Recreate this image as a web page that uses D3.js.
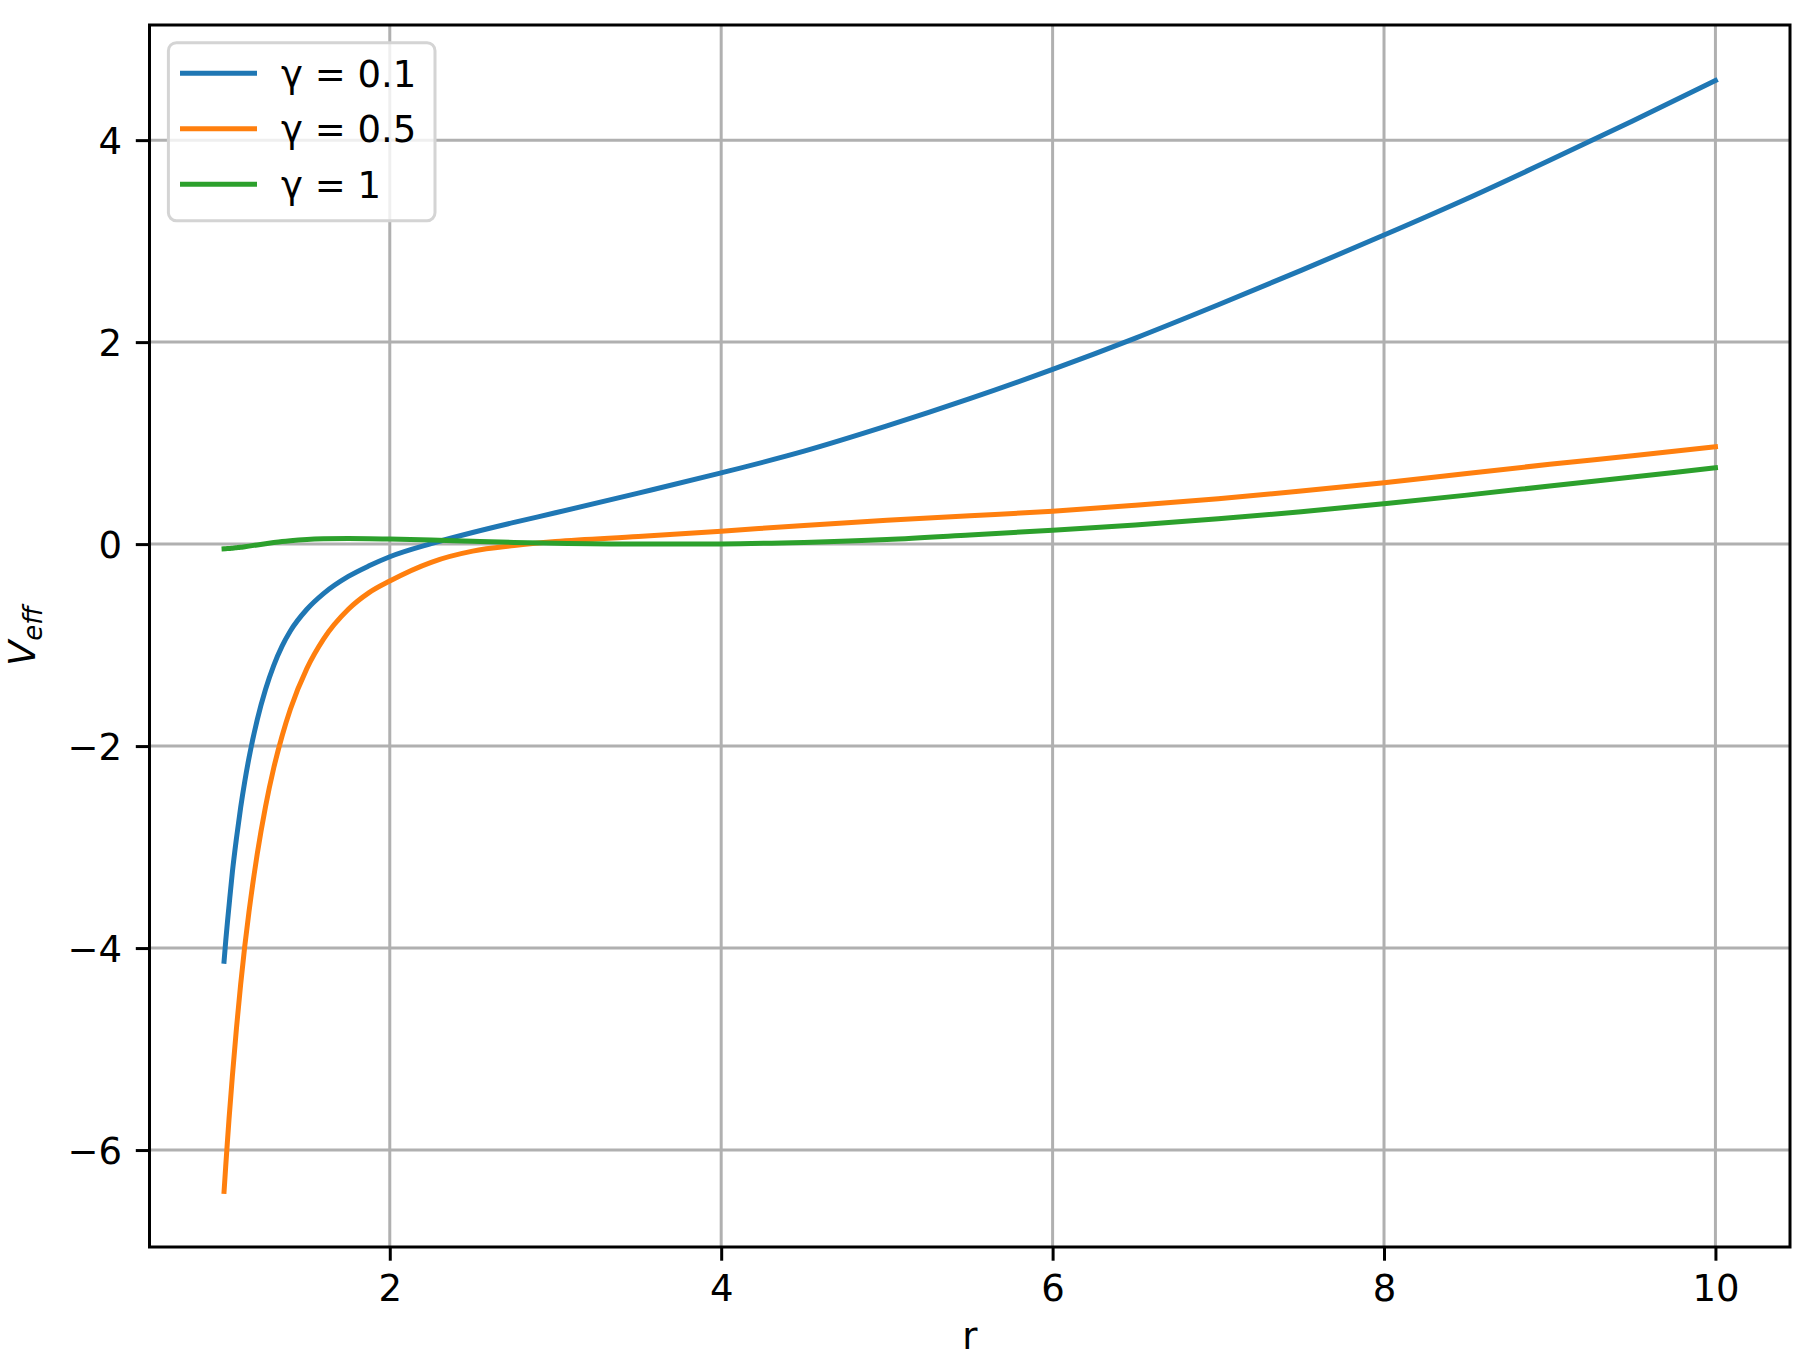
<!DOCTYPE html>
<html>
<head>
<meta charset="utf-8">
<script src="https://cdn.jsdelivr.net/npm/d3@7"></script>
<style>
  html, body { margin: 0; padding: 0; background: #ffffff; }
  svg { display: block; }
  text { font-family: "DejaVu Sans", sans-serif; }
</style>
</head>
<body>
<script>
// ---- data ----
const rValues = [1, 1.01, 1.02, 1.03, 1.05, 1.075, 1.1, 1.125, 1.15, 1.2, 1.25, 1.3, 1.35, 1.4, 1.5, 1.6, 1.75, 1.875, 2, 2.25, 2.5, 2.75, 3, 3.5, 4, 4.5, 5, 5.5, 6, 6.5, 7, 7.5, 8, 8.5, 9, 9.5, 10];
const vGamma01 = [-4.13, -3.93, -3.75, -3.58, -3.25, -2.91, -2.61, -2.35, -2.12, -1.74, -1.44, -1.20, -1.01, -0.86, -0.645, -0.49, -0.32, -0.215, -0.125, 0.005, 0.115, 0.215, 0.31, 0.505, 0.705, 0.92, 1.17, 1.44, 1.73, 2.04, 2.37, 2.71, 3.06, 3.42, 3.80, 4.19, 4.59];
const vGamma05 = [-6.41, -6.16, -5.92, -5.69, -5.27, -4.79, -4.36, -3.98, -3.645, -3.07, -2.60, -2.215, -1.90, -1.635, -1.23, -0.94, -0.645, -0.48, -0.365, -0.18, -0.07, -0.015, 0.025, 0.075, 0.128, 0.185, 0.235, 0.28, 0.326, 0.385, 0.45, 0.525, 0.607, 0.70, 0.79, 0.875, 0.963];
const vGamma1 = [-0.046, -0.045, -0.044, -0.043, -0.040, -0.036, -0.032, -0.026, -0.020, -0.008, 0.004, 0.015, 0.025, 0.033, 0.045, 0.052, 0.056, 0.054, 0.050, 0.040, 0.028, 0.017, 0.009, 0.001, 0.002, 0.017, 0.045, 0.09, 0.138, 0.19, 0.25, 0.32, 0.40, 0.485, 0.575, 0.665, 0.755];
const seriesLabels = ["γ = 0.1", "γ = 0.5", "γ = 1"];
const seriesColors = ["#1f77b4", "#ff7f0e", "#2ca02c"];
const xTicks = [2, 4, 6, 8, 10];
const yTicks = [-6, -4, -2, 0, 2, 4];
const xLabel = "r";

// ---- layout ----
const W = 1807, H = 1360;
const M = { left: 149.5, right: 1790, top: 25, bottom: 1247 };
const FS = 37;

const series = [vGamma01, vGamma05, vGamma1].map((vals, i) => ({
  label: seriesLabels[i], color: seriesColors[i],
  points: rValues.map((r, j) => ({ r, v: vals[j] }))
}));

const xExt = d3.extent(rValues);
const allV = [].concat(vGamma01, vGamma05, vGamma1);
const yExt = d3.extent(allV);
const xPad = (xExt[1] - xExt[0]) * 0.05;
const yPad = (yExt[1] - yExt[0]) * 0.05;

const x = d3.scaleLinear().domain([xExt[0] - xPad, xExt[1] + xPad]).range([M.left, M.right]);
const y = d3.scaleLinear().domain([yExt[0] - yPad, yExt[1] + yPad]).range([M.bottom, M.top]);

const svg = d3.select("body").append("svg").attr("width", W).attr("height", H);
svg.append("rect").attr("width", W).attr("height", H).attr("fill", "#ffffff");

// grid
const grid = svg.append("g");
grid.selectAll("line.gx").data(xTicks).enter().append("line")
  .attr("x1", d => x(d)).attr("x2", d => x(d))
  .attr("y1", M.top).attr("y2", M.bottom)
  .attr("stroke", "#b0b0b0").attr("stroke-width", 3);
grid.selectAll("line.gy").data(yTicks).enter().append("line")
  .attr("y1", d => y(d)).attr("y2", d => y(d))
  .attr("x1", M.left).attr("x2", M.right)
  .attr("stroke", "#b0b0b0").attr("stroke-width", 3);

// lines
const line = d3.line().x(d => x(d.r)).y(d => y(d.v)).curve(d3.curveMonotoneX);
svg.append("g").selectAll("path").data(series).enter().append("path")
  .attr("d", d => line(d.points))
  .attr("fill", "none")
  .attr("stroke", d => d.color)
  .attr("stroke-width", 5)
  .attr("stroke-linecap", "square")
  .attr("stroke-linejoin", "round");

// axes
const xAxis = d3.axisBottom(x).tickValues(xTicks).tickSize(13.7).tickPadding(13.7).tickFormat(d3.format("d"));
const yAxis = d3.axisLeft(y).tickValues(yTicks).tickSize(13.7).tickPadding(13.7).tickFormat(d => d < 0 ? "\u2212" + Math.abs(d) : String(d));

const gx = svg.append("g").attr("transform", `translate(0,${M.bottom})`).call(xAxis);
gx.select(".domain").remove();
gx.selectAll(".tick line").attr("stroke", "#000").attr("stroke-width", 3);
gx.selectAll(".tick text").attr("font-size", FS).attr("fill", "#000")
  .attr("font-family", "DejaVu Sans").attr("dy", null).attr("y", 13.7 + 13.7 + 27);

const gy = svg.append("g").attr("transform", `translate(${M.left},0)`).call(yAxis);
gy.select(".domain").remove();
gy.selectAll(".tick line").attr("stroke", "#000").attr("stroke-width", 3);
gy.selectAll(".tick text").attr("font-size", FS).attr("fill", "#000")
  .attr("font-family", "DejaVu Sans").attr("dy", null).attr("y", 13.5);

// frame
svg.append("rect")
  .attr("x", M.left).attr("y", M.top)
  .attr("width", M.right - M.left).attr("height", M.bottom - M.top)
  .attr("fill", "none").attr("stroke", "#000").attr("stroke-width", 3);

// axis labels
svg.append("text")
  .attr("x", (M.left + M.right) / 2).attr("y", 1349)
  .attr("text-anchor", "middle").attr("font-size", FS).attr("fill", "#000")
  .text(xLabel);

const yl = svg.append("text")
  .attr("transform", `translate(35,${(M.top + M.bottom) / 2}) rotate(-90)`)
  .attr("text-anchor", "middle").attr("font-size", FS).attr("fill", "#000")
  .attr("font-style", "italic");
yl.append("tspan").text("V");
yl.append("tspan").attr("font-size", 26).attr("dy", 7).text("eff");

// legend
const lg = svg.append("g");
lg.append("rect")
  .attr("x", 168.4).attr("y", 42.7).attr("width", 435 - 168.4).attr("height", 220.7 - 42.7)
  .attr("rx", 8).attr("ry", 8)
  .attr("fill", "#ffffff").attr("fill-opacity", 0.8)
  .attr("stroke", "#d4d4d4").attr("stroke-width", 3);
const items = lg.selectAll("g.item").data(series).enter().append("g")
  .attr("transform", (d, i) => `translate(0,${73.3 + i * 55.5})`);
items.append("line").attr("x1", 180).attr("x2", 257).attr("y1", 0).attr("y2", 0)
  .attr("stroke", d => d.color).attr("stroke-width", 5);
items.append("text").attr("x", 281).attr("y", 13.5)
  .attr("font-size", FS).attr("fill", "#000").text(d => d.label);
</script>
</body>
</html>
